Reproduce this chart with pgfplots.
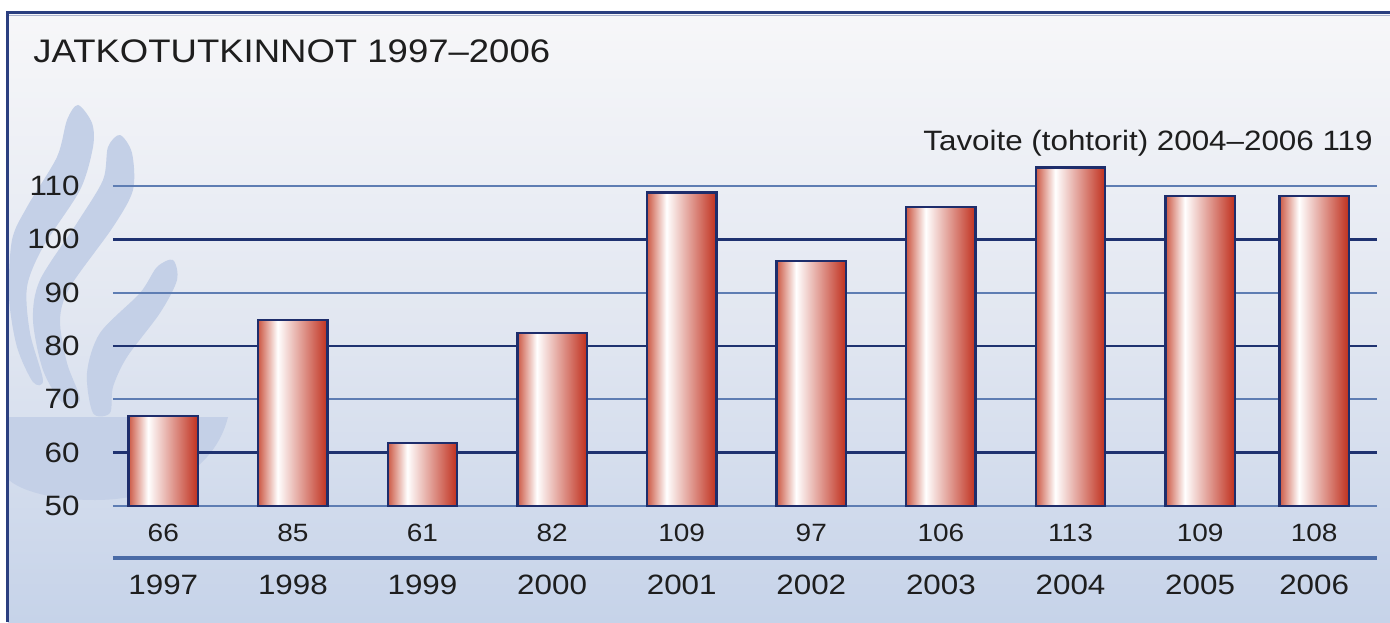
\documentclass[border=0pt]{standalone}
\usepackage{fontspec}
\setmainfont[FakeStretch=1.12]{Liberation Sans}
\usepackage{pgfplots}
\pgfplotsset{compat=1.18}
\usepackage{pgfplotstable}

\definecolor{bgTop}{HTML}{F7F7F9}
\definecolor{bgMid}{HTML}{E2E7F1}
\definecolor{bgBot}{HTML}{C6D3E9}
\definecolor{logo}{HTML}{C4D0E7}
\definecolor{frame}{HTML}{2B3F80}
\definecolor{gridDark}{HTML}{1F3270}
\definecolor{gridLight}{HTML}{5E7DB3}
\definecolor{barEdge}{HTML}{1E2D6B}
\definecolor{barL}{HTML}{CC5844}
\definecolor{barR}{HTML}{C0301E}
\definecolor{baseLine}{HTML}{4A6BA6}
\definecolor{txt}{HTML}{1E1E1E}

\pgfdeclarehorizontalshading{barshade}{100bp}{color(0bp)=(barL); color(25bp)=(barL); color(39bp)=(white); color(75bp)=(barR); color(100bp)=(barR)}

% x: bar position, h: bar height as drawn, lab: printed value
\pgfplotstableread{
x    h     lab base
0    66.9  66  50
1    84.9  85  50
2    61.8  61  50
3    82.4  82  50
4    108.8 109 50
5    95.9  97  50
6    106.1 106 50
7    113.5 113 50
8    108.1 109 50
8.88 108.1 108 50
}\tutk

\begin{document}
\begin{tikzpicture}
% background, logo and frame (pixel coordinates of the reference)
\begin{scope}[shift={(-56.5pt,253pt)}, x=0.5pt, y=-0.5pt]
  \fill[white] (0,0) rectangle (1390,622);
  \shade[top color=bgTop, bottom color=bgBot, middle color=bgMid] (8,12) rectangle (1390,622);
  \fill[logo] plot[smooth cycle] coordinates {(78,105) (92,123) (93,147) (80,190) (43,247) (27,287) (30,333) (43,380)
      (33,382) (17,347) (9,297) (12,240) (27,207) (57,157) (67,120)};
  \fill[logo] plot[smooth cycle] coordinates {(120,135) (132,153) (133,190) (113,227) (70,287) (60,320) (67,363) (80,400)
      (62,402) (43,370) (33,320) (40,280) (77,223) (103,180) (108,147)};
  \fill[logo] plot[smooth cycle] coordinates {(173,260) (177,280) (160,313) (127,357) (113,387) (110,413)
      (93,413) (87,373) (100,333) (140,293) (157,267)};
  \fill[logo] (9,417) -- (228,417) .. controls (215,470) and (160,500) .. (95,500) .. controls (50,500) and (20,490) .. (9,480) -- cycle;
  \draw[color=frame!40, line width=0.8pt] (9.5,15.5) -- (1390,15.5);
  \draw[frame, line width=1.5pt] (8,622) -- (8,12.5) -- (1390,12.5);
\end{scope}

\begin{axis}[
    at={(0,0)}, anchor=south west,
    scale only axis,
    width=632pt, height=160pt,
    xmin=-0.388, xmax=9.365,
    ymin=50, ymax=110,
    clip=false,
    axis line style={draw=none},
    major tick length=0pt,
    tick style={draw=none},
    xtick={0,1,2,3,4,5,6,7,8,8.88},
    xticklabels={1997,1998,1999,2000,2001,2002,2003,2004,2005,2006},
    xticklabel style={anchor=center, inner sep=0pt, yshift=-39.5pt, font=\fontsize{14}{16}\selectfont, text=txt},
    ytick={50,70,90,110},
    extra y ticks={60,80,100},
    extra y tick style={major grid style={gridDark, line width=1.25pt}},
    ymajorgrids=true,
    grid style={gridLight, line width=0.9pt},
    yticklabel style={anchor=east, inner sep=0pt, xshift=-16.5pt, font=\fontsize{14}{16}\selectfont, text=txt},
    /pgf/number format/assume math mode=true,
]
% one plot per bar, so that every bar gets its own shading
\pgfplotsinvokeforeach{0,...,9}{
  \addplot[ybar, bar width=0.535, draw=barEdge, line width=1.2pt, shade, shading=barshade,
      restrict expr to domain={\coordindex}{#1:#1}]
      table[x=x, y=h] {\tutk};
}
\addplot[draw=none, mark=none, nodes near coords, point meta=explicit symbolic,
    every node near coord/.style={anchor=center, yshift=-13.3pt, font=\fontsize{12.5}{14}\selectfont, text=txt}]
    table[x=x, y=base, meta=lab] {\tutk};
\draw[baseLine, line width=2pt] (axis cs:-0.388,40.25) -- (axis cs:9.365,40.25);
\end{axis}

\begin{scope}[shift={(-56.5pt,253pt)}, x=0.5pt, y=-0.5pt]
  \node[anchor=base west, inner sep=0pt, text=txt, font=\fontsize{16.3}{19}\selectfont] at (33,63) {JATKOTUTKINNOT 1997–2006};
  \node[anchor=base east, inner sep=0pt, text=txt, font=\fontsize{14}{16}\selectfont] at (1373,150) {Tavoite (tohtorit) 2004–2006 119};
\end{scope}
\pgfresetboundingbox
\path[use as bounding box] (-56.5pt,-58pt) rectangle (638.5pt,253pt);
\end{tikzpicture}
\end{document}
